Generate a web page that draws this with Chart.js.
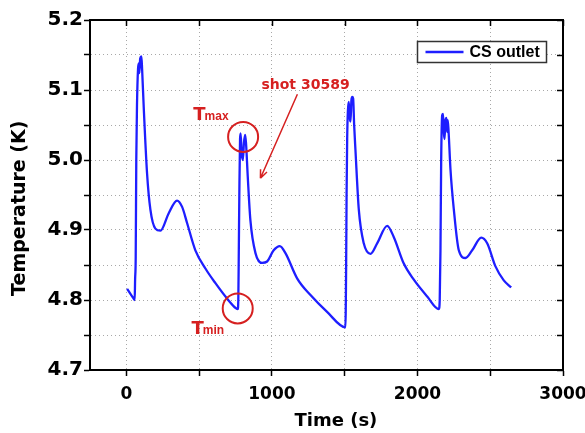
<!DOCTYPE html>
<html>
<head>
<meta charset="utf-8">
<script src="https://cdn.jsdelivr.net/npm/chart.js@4/dist/chart.umd.min.js"></script>
<style>
  body { margin: 0; background: #fff; }
  #wrap { width: 585px; height: 433px; }
</style>
</head>
<body>
<div id="wrap"><canvas id="myChart" width="585" height="433"></canvas></div>
<script>
// DATA
const seriesLabel = "CS outlet";
const timeValues = [
	5, 30, 50, 57, 60, 64, 68, 73, 80, 85, 89, 95, 103, 108, 119, 142, 165, 199, 234, 291, 348, 383, 417, 474, 543, 612, 692, 754, 765,
	769, 772, 776, 781, 785, 792, 800, 808, 816, 822, 834, 852, 887, 932, 967, 1012, 1054, 1093, 1173, 1265, 1379, 1505,
	1510, 1513, 1517, 1522, 1528, 1535, 1540, 1546, 1552, 1558, 1565, 1574, 1597, 1631, 1677, 1723, 1792, 1837, 1906, 1975, 2067, 2147,
	2153, 2158, 2163, 2170, 2176, 2181, 2186, 2192, 2199, 2204, 2208, 2214, 2227, 2250, 2284, 2330, 2376, 2438, 2479, 2536, 2593, 2644
];
const tempValues = [
	4.816, 4.808, 4.802, 4.800, 4.830, 4.860, 5.000, 5.080, 5.130, 5.138, 5.124, 5.145, 5.148, 5.130, 5.076, 4.981, 4.929, 4.902, 4.899, 4.924, 4.942, 4.933, 4.910, 4.871, 4.845, 4.824, 4.802, 4.788, 4.787,
	4.800, 4.860, 4.950, 5.030, 5.038, 5.010, 5.000, 5.025, 5.036, 5.024, 4.976, 4.914, 4.867, 4.853, 4.855, 4.871, 4.877, 4.867, 4.831, 4.807, 4.783, 4.761,
	4.850, 4.950, 5.030, 5.070, 5.083, 5.060, 5.055, 5.085, 5.090, 5.088, 5.050, 5.014, 4.929, 4.881, 4.866, 4.881, 4.906, 4.890, 4.852, 4.829, 4.805, 4.787,
	4.800, 4.870, 5.000, 5.064, 5.066, 5.040, 5.030, 5.055, 5.060, 5.040, 5.057, 5.040, 4.986, 4.929, 4.871, 4.860, 4.871, 4.889, 4.881, 4.848, 4.828, 4.818
];
const xTicks = [0, 500, 1000, 1500, 2000, 2500, 3000];
const xLabelled = [0, 1000, 2000, 3000];
const yTicks = [4.7, 4.75, 4.8, 4.85, 4.9, 4.95, 5.0, 5.05, 5.1, 5.15, 5.2];
const yLabelled = [4.7, 4.8, 4.9, 5.0, 5.1, 5.2];
const xMin = -250, xMax = 3000, yMin = 4.7, yMax = 5.2;

// NOTES DRAWN ON THE PLOT (data coordinates)
const notes = {
	tmaxCircle: [802, 5.033],
	tminCircle: [765, 4.788],
	tmaxText: [460, 5.057],
	tminText: [447, 4.752],
	shotText: [928, 5.102],
	arrowFrom: [1175, 5.094],
	arrowTo: [921, 4.974]
};

const FONT = "'DejaVu Sans', sans-serif";
const FONT2 = "'Liberation Sans', Arial, sans-serif";
const RED = "rgb(214, 32, 32)";
const BLUE = "rgb(30, 30, 255)";

const points = timeValues.map((t, i) => ({ x: t, y: tempValues[i] }));
const isLabelled = (list, v) => list.some(l => Math.abs(l - v) < 1e-6);

// FRAME, INWARD TICKS ON TOP/RIGHT AND THE LEGEND
const framePlugin = {
	id: "frame",
	afterDraw(chart) {
		const { ctx, chartArea: a, scales } = chart;
		ctx.save();
		ctx.strokeStyle = "#000";
		ctx.lineWidth = 2;
		ctx.beginPath();
		ctx.moveTo(a.left, a.top);
		ctx.lineTo(a.right, a.top);
		ctx.lineTo(a.right, a.bottom);
		ctx.stroke();
		ctx.lineWidth = 1.5;
		ctx.beginPath();
		scales.x.ticks.forEach(t => {
			const px = Math.round(scales.x.getPixelForValue(t.value)) + 0.5;
			ctx.moveTo(px, a.top);
			ctx.lineTo(px, a.top + 6);
		});
		scales.y.ticks.forEach(t => {
			const py = Math.round(scales.y.getPixelForValue(t.value)) + 0.5;
			ctx.moveTo(a.right, py);
			ctx.lineTo(a.right - 6, py);
		});
		ctx.stroke();

		// legend
		const ds = chart.data.datasets[0];
		ctx.font = "bold 16px " + FONT2;
		const tw = ctx.measureText(ds.label).width;
		const bw = Math.round(8 + 38 + 6 + tw + 7);
		const bx = Math.round(a.right - 17 - bw) + 0.5;
		const by = Math.round(a.top + 21) + 0.5;
		const bh = 21;
		ctx.fillStyle = "#fff";
		ctx.fillRect(bx, by, bw, bh);
		ctx.strokeStyle = "#333";
		ctx.lineWidth = 1.5;
		ctx.strokeRect(bx, by, bw, bh);
		ctx.strokeStyle = ds.borderColor;
		ctx.lineWidth = ds.borderWidth;
		ctx.beginPath();
		ctx.moveTo(bx + 8, by + bh / 2);
		ctx.lineTo(bx + 46, by + bh / 2);
		ctx.stroke();
		ctx.fillStyle = "#000";
		ctx.textBaseline = "middle";
		ctx.fillText(ds.label, bx + 52, by + bh / 2 + 1);
		ctx.restore();
	}
};

// RED CIRCLES, LABELS AND ARROW
const notesPlugin = {
	id: "notes",
	afterDatasetsDraw(chart) {
		const { ctx, scales: { x, y } } = chart;
		const px = p => [x.getPixelForValue(p[0]), y.getPixelForValue(p[1])];
		ctx.save();
		ctx.strokeStyle = RED;
		ctx.fillStyle = RED;
		ctx.lineWidth = 2;
		[notes.tmaxCircle, notes.tminCircle].forEach(c => {
			const [cx, cy] = px(c);
			ctx.beginPath();
			ctx.arc(cx, cy, 15, 0, Math.PI * 2);
			ctx.stroke();
		});
		ctx.textBaseline = "alphabetic";
		ctx.textAlign = "left";
		const sub = (pos, big, small) => {
			const [tx, ty] = px(pos);
			ctx.font = "bold 18px " + FONT;
			ctx.fillText(big, tx, ty);
			const w = ctx.measureText(big).width;
			ctx.font = "bold 12px " + FONT2;
			ctx.fillText(small, tx + w - 1, ty);
		};
		sub(notes.tmaxText, "T", "max");
		sub(notes.tminText, "T", "min");
		const [sx, sy] = px(notes.shotText);
		ctx.font = "bold 14px " + FONT;
		ctx.fillText("shot 30589", sx, sy);
		// arrow
		const [ax, ay] = px(notes.arrowFrom);
		const [bx, by] = px(notes.arrowTo);
		ctx.lineWidth = 1.5;
		ctx.beginPath();
		ctx.moveTo(ax, ay);
		ctx.lineTo(bx, by);
		const ang = Math.atan2(by - ay, bx - ax);
		ctx.moveTo(bx, by);
		ctx.lineTo(bx - 9 * Math.cos(ang - 0.4), by - 9 * Math.sin(ang - 0.4));
		ctx.moveTo(bx, by);
		ctx.lineTo(bx - 9 * Math.cos(ang + 0.4), by - 9 * Math.sin(ang + 0.4));
		ctx.stroke();
		ctx.restore();
	}
};

const ctx = document.getElementById("myChart").getContext("2d");
const myChart = new Chart(ctx, {
	type: "scatter",
	data: {
		datasets: [
			{
				label: seriesLabel,
				data: points,
				showLine: true,
				borderColor: BLUE,
				backgroundColor: BLUE,
				borderWidth: 2.3,
				pointRadius: 0,
				cubicInterpolationMode: "monotone",
			},
		],
	},
	options: {
		responsive: false,
		devicePixelRatio: 1,
		animation: false,
		layout: { padding: { top: 20, right: 22, left: 0, bottom: 0 } },
		plugins: {
			tooltip: { enabled: false },
			legend: { display: false },
		},
		scales: {
			x: {
				type: "linear",
				min: xMin,
				max: xMax,
				afterBuildTicks: s => { s.ticks = xTicks.map(v => ({ value: v })); },
				afterFit: s => { s.height = 63; s.paddingLeft = 0; s.paddingRight = 0; },
				ticks: {
					autoSkip: false,
					maxRotation: 0,
					padding: 8,
					color: "#000",
					font: { family: FONT, size: 17, weight: "bold" },
					callback: v => (isLabelled(xLabelled, v) ? String(v) : ""),
				},
				grid: { color: "#a8a8a8", tickColor: "#000", tickLength: 6, tickWidth: 1.5 },
				border: { color: "#000", width: 2, dash: [1, 3] },
				title: {
					display: true,
					text: "   Time (s)",
					color: "#000",
					font: { family: FONT, size: 18, weight: "bold" },
					padding: { top: 0, bottom: 1 },
				},
			},
			y: {
				min: yMin,
				max: yMax,
				afterBuildTicks: s => { s.ticks = yTicks.map(v => ({ value: v })); },
				afterFit: s => { s.width = 90; },
				ticks: {
					autoSkip: false,
					padding: 1,
					color: "#000",
					font: { family: FONT, size: 20, weight: "bold" },
					callback: v => (isLabelled(yLabelled, v) ? v.toFixed(1) : ""),
				},
				grid: { color: "#a8a8a8", tickColor: "#000", tickLength: 6, tickWidth: 1.5 },
				border: { color: "#000", width: 2, dash: [1, 3] },
				title: {
					display: true,
					text: "Temperature (K)    ",
					color: "#000",
					font: { family: FONT, size: 19, weight: "bold" },
					padding: { top: 9, bottom: 0 },
				},
			},
		},
	},
	plugins: [notesPlugin, framePlugin],
});
</script>
</body>
</html>
